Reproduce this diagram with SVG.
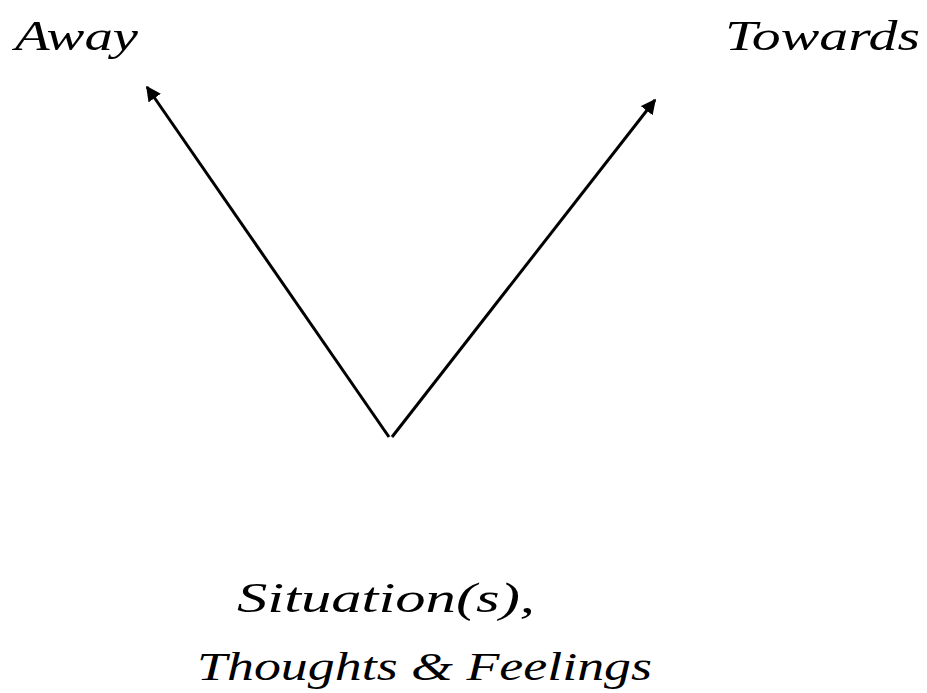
<svg xmlns="http://www.w3.org/2000/svg" width="927" height="693" viewBox="0 0 927 693">
<style>
.lbl{font-family:"Liberation Serif","DejaVu Serif",serif;font-style:italic;fill:#000;}
.con{stroke:#000;stroke-width:3;fill:none;}
</style>
<defs>
<marker id="ah" viewBox="0 0 10 10" refX="9" refY="5" markerWidth="5" markerHeight="5" orient="auto" markerUnits="strokeWidth">
<path d="M0,0 L10,5 L0,10 z" fill="#000"/>
</marker>
</defs>
<rect width="927" height="693" fill="#fff"/>
<g id="connectors">
<line class="con" x1="389" y1="437" x2="147" y2="87" marker-end="url(#ah)"/>
<line class="con" x1="392" y1="437" x2="655" y2="100" marker-end="url(#ah)"/>
</g>
<g id="away"><text class="lbl" x="15" y="50" font-size="42" textLength="123" lengthAdjust="spacingAndGlyphs">Away</text></g>
<g id="towards"><text class="lbl" x="725" y="50" font-size="42" textLength="195" lengthAdjust="spacingAndGlyphs">Towards</text></g>
<g id="situation">
<text class="lbl" x="237" y="612" font-size="42" textLength="298" lengthAdjust="spacingAndGlyphs">Situation(s),</text>
<text class="lbl" x="197" y="680" font-size="40" textLength="455" lengthAdjust="spacingAndGlyphs">Thoughts &amp; Feelings</text>
</g>
</svg>
